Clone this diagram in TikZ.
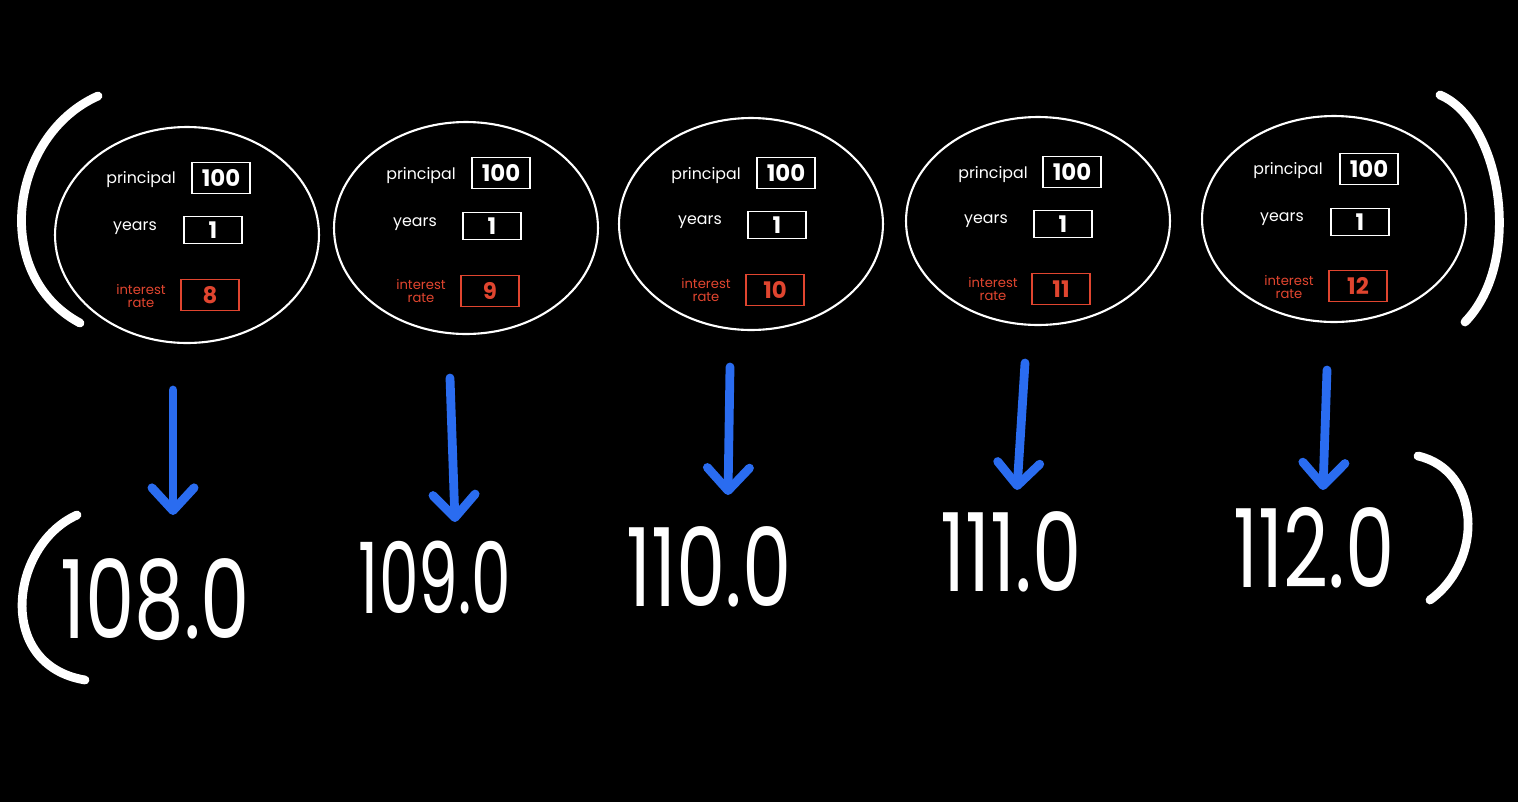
\documentclass[tikz,border=0pt]{standalone}
\usepackage{fontspec}
\setmainfont{Poppins}
\usetikzlibrary{shapes.geometric,arrows.meta}

\definecolor{inkred}{HTML}{E0452F}
\definecolor{inkblue}{HTML}{2A6CF0}

\tikzset{
  bubble/.style={draw=white, line width=1.2pt, ellipse, inner sep=0pt, minimum width=5.28cm, minimum height=4.32cm},
  lbl/.style={text=white, font=\fontsize{9}{10}\selectfont},
  redlbl/.style={text=inkred, align=center, font=\fontsize{7.5}{7}\selectfont},
  valbox/.style={draw=white, line width=1.1pt, text=white, minimum width=1.16cm, minimum height=0.62cm, inner sep=0pt, font=\fontsize{13}{13}\selectfont\bfseries},
  redbox/.style={valbox, draw=inkred, text=inkred},
  result/.style={text=white, font=\fontsize{62}{62}\selectfont, xscale=0.72, transform shape, inner sep=0pt},
  flow/.style={draw=inkblue, line width=5pt, line cap=round,
    -{Straight Barb[length=13pt, width=24pt, line cap=round, line join=round]}},
  paren/.style={draw=white, line width=5pt, line cap=round}
}

\begin{document}
\begin{tikzpicture}[x=0.02cm, y=-0.02cm]
    \fill[black] (0,0) rectangle (1518,802);
    \useasboundingbox (0,0) rectangle (1518,802);

    % Bubbles
    \node[bubble] (c1) at (187,235) {};
    \node[bubble, minimum height=4.24cm] (c2) at (466,228) {};
    \node[bubble, minimum height=4.24cm] (c3) at (751,224) {};
    \node[bubble, minimum height=4.16cm] (c4) at (1038,221) {};
    \node[bubble, minimum height=4.12cm] (c5) at (1334,219) {};

    % Inputs, bubble 1
    \node[lbl] (p1) at (141,180) {principal};
    \node[valbox] (pv1) at (221,178) {100};
    \node[lbl] (y1) at (135,228) {years};
    \node[valbox, minimum height=0.54cm] (yv1) at (213,230) {1};
    \node[redlbl] (r1) at (141,296) {interest\\rate};
    \node[redbox] (rv1) at (210,295) {8};

    % Inputs, bubble 2
    \node[lbl] (p2) at (421,176) {principal};
    \node[valbox] (pv2) at (501,173) {100};
    \node[lbl] (y2) at (415,224) {years};
    \node[valbox, minimum height=0.54cm] (yv2) at (492,226) {1};
    \node[redlbl] (r2) at (421,291) {interest\\rate};
    \node[redbox] (rv2) at (490,291) {9};

    % Inputs, bubble 3
    \node[lbl] (p3) at (706,176) {principal};
    \node[valbox] (pv3) at (786,173) {100};
    \node[lbl] (y3) at (700,222) {years};
    \node[valbox, minimum height=0.54cm] (yv3) at (777,225) {1};
    \node[redlbl] (r3) at (706,290) {interest\\rate};
    \node[redbox] (rv3) at (775,290) {10};

    % Inputs, bubble 4
    \node[lbl] (p4) at (993,175) {principal};
    \node[valbox] (pv4) at (1072,172) {100};
    \node[lbl] (y4) at (986,221) {years};
    \node[valbox, minimum height=0.54cm] (yv4) at (1063,224) {1};
    \node[redlbl] (r4) at (993,289) {interest\\rate};
    \node[redbox] (rv4) at (1061,289) {11};

    % Inputs, bubble 5
    \node[lbl] (p5) at (1288,171) {principal};
    \node[valbox] (pv5) at (1369,169) {100};
    \node[lbl] (y5) at (1282,219) {years};
    \node[valbox, minimum height=0.54cm] (yv5) at (1360,222) {1};
    \node[redlbl] (r5) at (1289,287) {interest\\rate};
    \node[redbox] (rv5) at (1358,286) {12};

    % Results
    \node[result] (o1) at (155,600) {108.0};
    \node[result, font=\fontsize{56}{56}\selectfont, xscale=0.64/0.72] (o2) at (435,578) {109.0};
    \node[result] (o3) at (709,567) {110.0};
    \node[result] (o4) at (1011,552) {111.0};
    \node[result] (o5) at (1314,548) {112.0};

    % Arrow ends
    \coordinate (a1) at (173,390); \coordinate (b1) at (173,515);
    \coordinate (a2) at (450,378); \coordinate (b2) at (455,522);
    \coordinate (a3) at (730,367); \coordinate (b3) at (728,495);
    \coordinate (a4) at (1025,363); \coordinate (b4) at (1017,490);
    \coordinate (a5) at (1327,370); \coordinate (b5) at (1323,490);

    % Arrows
    \draw[flow] (a1) -- (b1);
    \draw[flow] (a2) -- (b2);
    \draw[flow] (a3) -- (b3);
    \draw[flow] (a4) -- (b4);
    \draw[flow] (a5) -- (b5);

    % Brackets
    \draw[paren] (98,96) .. controls (10,135) and (-10,275) .. (80,323);
    \draw[paren] (1440,95) .. controls (1500,120) and (1525,260) .. (1465,322);
    \draw[paren] (77,515) .. controls (10,545) and (-5,665) .. (85,680);
    \draw[paren] (1418,456) .. controls (1480,470) and (1485,560) .. (1430,600);
\end{tikzpicture}
\end{document}
